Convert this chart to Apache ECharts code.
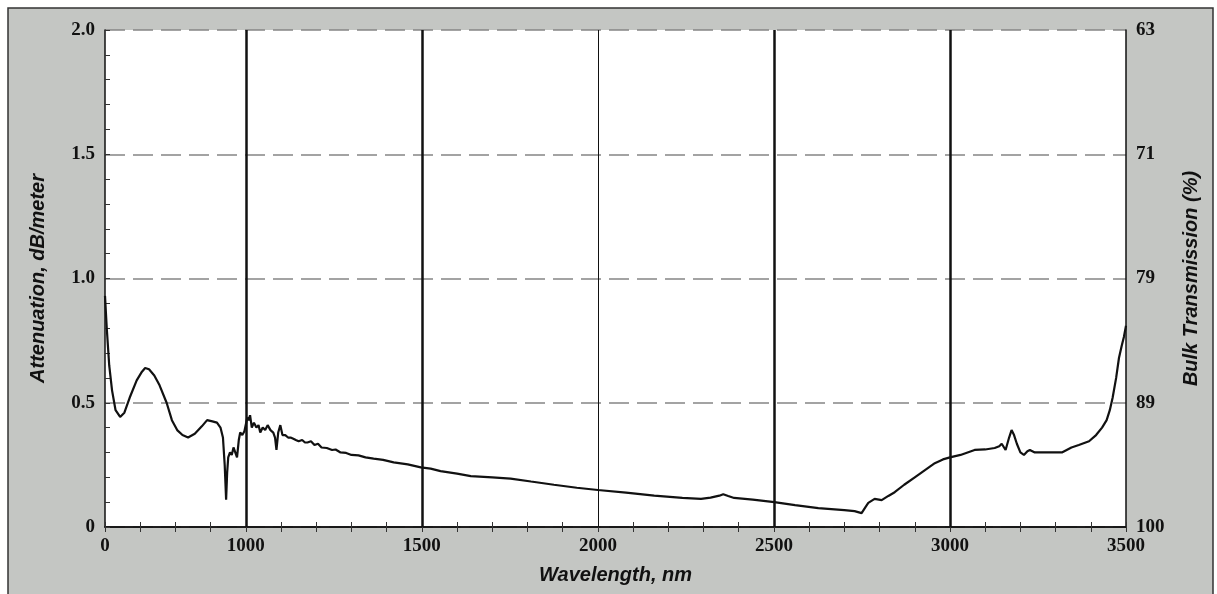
<!DOCTYPE html>
<html>
<head>
<meta charset="utf-8">
<script src="https://cdn.jsdelivr.net/npm/echarts@6/dist/echarts.min.js"></script>
<style>
html,body{margin:0;padding:0;background:#ffffff;}
#chart{width:1217px;height:594px;}
</style>
</head>
<body>
<div id="chart"></div>
<script>
// Wavelength (nm) and attenuation (dB/m)
const wavelengths = [600,605,612,620,630,643,655,670,690,705,714,725,740,755,775,790,805,820,836,855,875,890,905,918,928,935,940,944,947,950,955,960,965,970,975,980,984,990,996,1000,1004,1008,1012,1017,1023,1030,1036,1041,1048,1055,1062,1070,1078,1083,1087,1092,1098,1104,1112,1120,1127,1135,1142,1150,1160,1168,1175,1185,1195,1205,1215,1230,1245,1255,1269,1285,1300,1320,1340,1363,1390,1420,1460,1497,1525,1553,1600,1639,1700,1752,1810,1875,1940,2000,2080,2160,2240,2293,2320,2345,2356,2370,2387,2440,2501,2560,2626,2700,2729,2749,2760,2768,2786,2806,2825,2843,2870,2900,2930,2957,2980,3000,3030,3070,3100,3127,3140,3147,3158,3168,3175,3182,3190,3200,3210,3220,3227,3241,3280,3318,3345,3366,3395,3415,3432,3445,3454,3462,3472,3480,3488,3494,3500];
const attenuation = [0.93,0.80,0.65,0.55,0.47,0.443,0.46,0.52,0.59,0.625,0.64,0.635,0.61,0.57,0.50,0.43,0.39,0.37,0.36,0.375,0.405,0.43,0.425,0.42,0.40,0.36,0.25,0.11,0.22,0.28,0.30,0.29,0.32,0.30,0.28,0.35,0.38,0.37,0.385,0.39,0.44,0.43,0.45,0.40,0.42,0.40,0.41,0.38,0.40,0.39,0.41,0.39,0.38,0.36,0.31,0.38,0.41,0.37,0.37,0.36,0.36,0.355,0.35,0.345,0.35,0.34,0.34,0.345,0.33,0.335,0.32,0.318,0.31,0.312,0.30,0.298,0.29,0.288,0.28,0.275,0.27,0.26,0.252,0.24,0.235,0.225,0.215,0.205,0.20,0.195,0.183,0.17,0.158,0.149,0.138,0.126,0.117,0.113,0.118,0.126,0.132,0.125,0.117,0.11,0.10,0.088,0.076,0.068,0.064,0.056,0.08,0.097,0.113,0.108,0.125,0.14,0.17,0.20,0.23,0.257,0.272,0.28,0.29,0.31,0.312,0.318,0.325,0.335,0.31,0.36,0.39,0.37,0.335,0.30,0.29,0.305,0.31,0.30,0.30,0.30,0.32,0.33,0.345,0.37,0.40,0.43,0.47,0.52,0.60,0.68,0.73,0.765,0.81];

// Tick labels
const xTickValues = [600,1000,1500,2000,2500,3000,3500];
const xTickLabels = ['0','1000','1500','2000','2500','3000','3500'];
const yLeftValues = [0,0.5,1.0,1.5,2.0];
const yLeftLabels = ['0','0.5','1.0','1.5','2.0'];
const yRightLabels = ['100','89','79','71','63'];
// Vertical reference lines
const vLines = [1000,1500,2000,2500,3000];
const vLineHeavy = [true,true,false,true,true];

const chart = echarts.init(document.getElementById('chart'), null, {renderer:'canvas'});
const serifFont = '"Liberation Serif","DejaVu Serif",serif';
const sansFont = '"Liberation Sans",Arial,sans-serif';

function labelFor(values, labels, v){
  for (let i=0;i<values.length;i++){ if (Math.abs(values[i]-v)<1e-6) return labels[i]; }
  return '';
}

const tickLabelStyle = {color:'#111', fontFamily:serifFont, fontWeight:'bold', fontSize:19};

const option = {
  backgroundColor:'#ffffff',
  animation:false,
  graphic:[{
    type:'rect', z:-10, silent:true,
    shape:{x:8,y:8,width:1205,height:590},
    style:{fill:'#c4c6c3', stroke:'#333', lineWidth:1.5}
  }],
  grid:{left:105, right:91, top:30, bottom:67, show:true, backgroundColor:'#ffffff', borderWidth:0},
  xAxis:[{
    type:'value', min:600, max:3500, interval:100, position:'bottom',
    name:'Wavelength, nm', nameLocation:'middle', nameGap:38,
    nameTextStyle:{fontFamily:sansFont, fontStyle:'italic', fontWeight:'bold', fontSize:20, color:'#111'},
    axisLine:{show:true, lineStyle:{color:'#111', width:1.5}},
    axisTick:{show:true, inside:true, length:5, lineStyle:{color:'#333', width:1}},
    axisLabel:Object.assign({margin:10, formatter:v=>labelFor(xTickValues,xTickLabels,v)}, tickLabelStyle),
    splitLine:{show:false}
  },{
    type:'value', min:600, max:3500, interval:100, position:'top',
    axisLine:{show:true, lineStyle:{color:'#111', width:1.5}},
    axisTick:{show:true, inside:true, length:5, lineStyle:{color:'#333', width:1}},
    axisLabel:{show:false}, splitLine:{show:false}
  }],
  yAxis:[{
    type:'value', min:0, max:2, interval:0.5, position:'left',
    name:'Attenuation, dB/meter', nameLocation:'middle', nameGap:57, nameRotate:90,
    nameTextStyle:{fontFamily:sansFont, fontStyle:'italic', fontWeight:'bold', fontSize:20, color:'#111'},
    axisLine:{show:true, lineStyle:{color:'#111', width:1.5}},
    axisTick:{show:true, inside:true, length:5, lineStyle:{color:'#333', width:1}},
    minorTick:{show:true, splitNumber:5, length:5, lineStyle:{color:'#333', width:1}},
    axisLabel:Object.assign({margin:10, formatter:v=>labelFor(yLeftValues,yLeftLabels,v)}, tickLabelStyle),
    splitLine:{show:true, lineStyle:{color:'#858585', width:1.6, type:[20,8]}}
  },{
    type:'value', min:0, max:2, interval:0.5, position:'right',
    name:'Bulk Transmission (%)', nameLocation:'middle', nameGap:55, nameRotate:90,
    nameTextStyle:{fontFamily:sansFont, fontStyle:'italic', fontWeight:'bold', fontSize:20, color:'#111'},
    axisLine:{show:true, lineStyle:{color:'#111', width:1.5}},
    axisTick:{show:false},
    axisLabel:Object.assign({margin:10, formatter:v=>{const i=yLeftValues.findIndex(a=>Math.abs(a-v)<1e-6);return i>=0?yRightLabels[i]:'';}}, tickLabelStyle),
    splitLine:{show:false}
  }],
  series:[{
    type:'line',
    xAxisIndex:0, yAxisIndex:0,
    data:wavelengths.map((w,i)=>[w,attenuation[i]]),
    showSymbol:false, symbol:'none',
    lineStyle:{color:'#111', width:2.2},
    z:5,
    markLine:{
      silent:true, symbol:'none', label:{show:false},
      data:vLines.map((v,i)=>({xAxis:v, lineStyle:{color:'#111', width:vLineHeavy[i]?2.5:1, type:'solid'}}))
    }
  }]
};
chart.setOption(option);
</script>
</body>
</html>
